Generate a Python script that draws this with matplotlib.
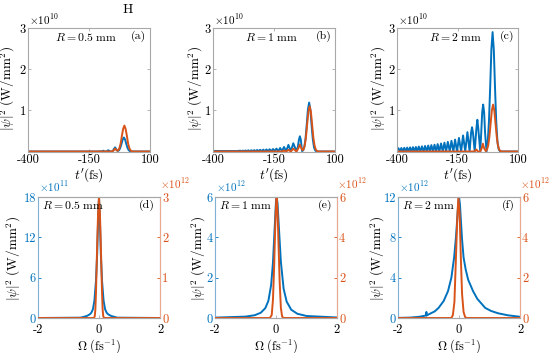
import matplotlib
matplotlib.use("Agg")
import matplotlib.pyplot as plt

plt.rcParams['font.family'] = ['cmr10', 'DejaVu Serif']
plt.rcParams['mathtext.fontset'] = 'cm'
plt.rcParams['axes.unicode_minus'] = False
plt.rcParams['axes.formatter.use_mathtext'] = True

BLUE = (0.0, 0.447, 0.741)
ORANGE = (0.85, 0.325, 0.098)
GRAY = '#a8a8a8'

# ---- top row: |psi|^2 vs t' (units of 1e10 W/mm^2) ----
a_t_blue = [-400, -115, -104, -97, -92, -86, -78, -71, -63, -54, -48, -43, -37, -32,
            -27, -22, -17, -12, -7, -2, 3, 8, 13, 18, 25, 100]
a_y_blue = [0, 0, 0.005, 0, 0.02, 0, 0, 0.03, 0, 0, 0.06, 0.10, 0.04, 0.012,
            0.03, 0.085, 0.18, 0.29, 0.34, 0.29, 0.18, 0.085, 0.03, 0.008, 0, 0]
a_t_orange = [-400, -60, -50, -43, -37, -34, -30, -25, -20, -15, -10, -5, 0, 5, 10,
              15, 20, 25, 30, 100]
a_y_orange = [0, 0, 0.02, 0.07, 0.03, 0.02, 0.028, 0.085, 0.2, 0.39, 0.55, 0.63, 0.55,
              0.39, 0.2, 0.085, 0.028, 0.007, 0, 0]

b_t_blue = [-400, -300, -288, -283, -277, -272, -266, -261, -255, -249, -243, -237,
            -231, -225, -219, -213, -207, -200, -194, -187, -181, -174, -168, -161,
            -154, -147, -140, -132, -125, -117, -109, -100, -91, -81, -71, -58,
            -52, -48, -44, -40, -35, -31, -26, -21, -16, -11, -6, -1, 4, 9, 14, 19,
            25, 100]
b_y_blue = [0.012, 0.012, 0.02, 0.008, 0.022, 0.008, 0.025, 0.008, 0.028, 0.008,
            0.03, 0.008, 0.033, 0.008, 0.037, 0.008, 0.04, 0.008, 0.045, 0.008,
            0.05, 0.008, 0.055, 0.008, 0.06, 0.008, 0.07, 0.008, 0.085, 0.008,
            0.11, 0.008, 0.16, 0.008, 0.2, 0.008, 0.12, 0.28, 0.37, 0.28, 0.01,
            0.025, 0.10, 0.30, 0.64, 1.02, 1.19, 1.02, 0.64, 0.30, 0.10, 0.025,
            0, 0]
b_t_orange = [-400, -120, -109, -100, -91, -81, -71, -58, -50, -44, -38, -33, -29,
              -24, -19, -14, -9, -4, 1, 6, 11, 16, 21, 26, 32, 100]
b_y_orange = [0, 0, 0.02, 0, 0.04, 0, 0.07, 0, 0.08, 0.17, 0.08, 0.03, 0.05,
              0.15, 0.35, 0.67, 0.97, 1.10, 0.97, 0.67, 0.35, 0.15, 0.05, 0.012, 0, 0]

c_t_blue = [-400, -394, -388, -382, -376, -370, -364, -358, -352, -346, -340, -334,
            -328, -322, -316, -310, -303, -297, -290, -284, -277, -271, -264, -258,
            -251, -245, -238, -232, -225, -218, -211, -204, -197, -190, -182, -175,
            -167, -160, -152, -144, -135, -127, -118, -109, -100, -94, -90, -86,
            -79, -72, -68, -64, -56, -52, -48, -44, -40, -36, -30, -25, -20, -15,
            -10, -5, 0, 5, 10, 15, 20, 26, 100]
c_y_blue = [0.04, 0.08, 0, 0.085, 0, 0.09, 0, 0.095, 0, 0.1, 0, 0.105,
            0, 0.11, 0, 0.12, 0, 0.125, 0, 0.135, 0, 0.145, 0, 0.155,
            0, 0.165, 0, 0.18, 0, 0.195, 0, 0.215, 0, 0.235, 0, 0.26,
            0, 0.29, 0, 0.33, 0, 0.39, 0, 0.47, 0, 0.45, 0.59, 0.45,
            0, 0.55, 0.77, 0.55, 0, 0.45, 0.95, 1.14, 0.95, 0.45, 0, 0.24, 0.73, 1.56,
            2.48, 2.9, 2.48, 1.56, 0.73, 0.24, 0.06, 0, 0]
c_t_orange = [-400, -80, -72, -66, -56, -50, -45, -40, -33, -28, -23, -18, -13, -8,
              -3, 2, 7, 12, 17, 22, 27, 33, 100]
c_y_orange = [0, 0, 0.05, 0, 0, 0.08, 0.19, 0.08, 0.01, 0.05, 0.15, 0.37, 0.69, 1.0,
              1.14, 1.0, 0.69, 0.37, 0.15, 0.05, 0.012, 0, 0]

# ---- bottom row: spectra vs Omega ----
d_w_blue = [-2, -0.6, -0.4, -0.3, -0.25, -0.2, -0.15, -0.1, -0.06, -0.03, 0,
            0.03, 0.06, 0.1, 0.15, 0.2, 0.25, 0.3, 0.4, 0.6, 2]
d_y_blue = [0, 0.05, 0.3, 0.55, 0.8, 1.3, 2.6, 5.5, 9.5, 14.5, 18,
            14.5, 9.5, 5.5, 2.6, 1.3, 0.8, 0.55, 0.3, 0.05, 0]           # x1e11
d_w_orange = [-2, -0.17, -0.14, -0.12, -0.1, -0.08, -0.06, -0.03, 0, 0.03, 0.06,
              0.08, 0.1, 0.12, 0.14, 0.17, 2]
d_y_orange = [0, 0, 0.04, 0.2, 0.6, 1.2, 1.8, 2.6, 3, 2.6, 1.8, 1.2, 0.6, 0.2,
              0.04, 0, 0]                                                 # x1e12

e_w_blue = [-2, -1, -0.7, -0.5, -0.35, -0.25, -0.16, -0.1, -0.05, 0.0, 0.02, 0.05,
            0.1, 0.16, 0.25, 0.35, 0.5, 0.7, 1.0, 2]
e_y_blue = [0.018, 0.069, 0.137, 0.26, 0.49, 0.85, 1.63, 2.74, 4.27, 5.81, 6, 5.7,
            4.35, 2.78, 1.45, 0.81, 0.41, 0.21, 0.10, 0.026]
e_w_orange = [-2, -0.2, -0.14, -0.1, -0.06, -0.03, 0.0, 0.02, 0.05, 0.08, 0.12,
              0.16, 0.2, 0.25, 2]
e_y_orange = [0, 0, 0.15, 0.9, 2.6, 4.3, 5.6, 6, 5.3, 3.8, 1.8, 0.5, 0.08, 0, 0]

f_w_blue = [-2, -1.6, -1.3, -1.08, -1.07, -1.06, -1.0, -0.8, -0.67, -0.5, -0.36,
            -0.25, -0.16, -0.1, -0.07, -0.03, 0, 0.03, 0.07, 0.1, 0.15, 0.22, 0.3,
            0.46, 0.6, 0.86, 1.05, 1.28, 1.6, 2.0]
f_y_blue = [0.01, 0.04, 0.12, 0.25, 0.6, 0.25, 0.35, 0.65, 1.0, 1.7, 2.67,
            4.0, 6.0, 8.0, 9.3, 11.2, 12, 11.3, 9.3, 7.8, 6.0, 4.8, 3.8,
            2.67, 1.9, 1.0, 0.7, 0.47, 0.27, 0.12]
f_w_orange = [-2, -0.25, -0.2, -0.15, -0.1, -0.06, -0.02, 0.02, 0.06, 0.1, 0.15,
              0.2, 0.25, 2]
f_y_orange = [0, 0, 0.15, 0.8, 3.0, 4.8, 6.0, 5.2, 3.0, 1.2, 0.3, 0.05, 0, 0]

W, H = 550, 353
fig = plt.figure(figsize=(W / 100, H / 100), dpi=100)


def box(x0, x1, ytop, ybot):
    return [x0 / W, 1 - ybot / H, (x1 - x0) / W, (ybot - ytop) / H]


def style_axis(ax, color=GRAY):
    for s in ax.spines.values():
        s.set_color(color)
        s.set_linewidth(0.8)
    ax.tick_params(direction='in', length=2.5, width=0.6, color=GRAY,
                   labelsize=9, pad=1.5, top=True, right=True)


ylab = r'$|\psi|^2\ (\mathrm{W/mm^2})$'

top = [
    (28, 150, 'a', '0.5', a_t_blue, a_y_blue, a_t_orange, a_y_orange, 8),
    (213, 335, 'b', '1', b_t_blue, b_y_blue, b_t_orange, b_y_orange, 196),
    (397, 518, 'c', '2', c_t_blue, c_y_blue, c_t_orange, c_y_orange, 379),
]
for x0, x1, tag, R, tb, yb, to, yo, ylx in top:
    ax = fig.add_axes(box(x0, x1, 28, 151.5))
    ax.plot(tb, yb, color=BLUE, lw=1.4)
    ax.plot(to, yo, color=ORANGE, lw=1.4)
    ax.set_xlim(-400, 100)
    ax.set_ylim(0, 3)
    ax.set_xticks([-400, -150, 100])
    ax.set_xticklabels(['-400', '-150', '100'])
    ax.set_yticks([1, 2, 3])
    ax.set_yticklabels(['1', '2', '3'])
    style_axis(ax)
    ax.text(0.48, 0.93, r'$R = %s\ \mathrm{mm}$' % R, transform=ax.transAxes,
            ha='center', va='center', fontsize=8.5)
    ax.text(0.97, 0.93, '(%s)' % tag, transform=ax.transAxes,
            ha='right', va='center', fontsize=8.5)
    fig.text((x0 + 1) / W, 1 - 20 / H, r'$\times10^{10}$', fontsize=8,
             ha='left', va='center')
    fig.text(ylx / W, 1 - 88 / H, ylab, rotation=90, ha='center', va='center',
             fontsize=9.5)
    fig.text((x0 + x1) / 2 / W, 1 - 175 / H, r"$t'(\mathrm{fs})$", ha='center',
             va='center', fontsize=9.5)

fig.text(128 / W, 1 - 10 / H, 'H', ha='center', va='center', fontsize=10)

bottom = [
    (38, 160, 'd', '0.5', d_w_blue, d_y_blue, d_w_orange, d_y_orange,
     18, [0, 6, 12, 18], 11, 3, [0, 1, 2, 3], 14),
    (215, 337, 'e', '1', e_w_blue, e_y_blue, e_w_orange, e_y_orange,
     6, [0, 2, 4, 6], 12, 6, [0, 2, 4, 6], 199),
    (398, 520, 'f', '2', f_w_blue, f_y_blue, f_w_orange, f_y_orange,
     12, [0, 4, 8, 12], 12, 6, [0, 2, 4, 6], 378),
]
for (x0, x1, tag, R, wb, yb, wo, yo, lmax, lticks, lexp, rmax, rticks,
     ylx) in bottom:
    ax = fig.add_axes(box(x0, x1, 197, 318))
    ax2 = ax.twinx()
    ax.plot(wb, yb, color=BLUE, lw=1.4)
    ax2.plot(wo, yo, color=ORANGE, lw=1.4)
    ax.set_xlim(-2, 2)
    ax.set_ylim(0, lmax)
    ax2.set_ylim(0, rmax)
    ax.set_xticks([-2, 0, 2])
    ax.set_xticklabels(['-2', '0', '2'])
    ax.set_yticks(lticks)
    ax.set_yticklabels([str(v) for v in lticks])
    ax2.set_yticks(rticks)
    ax2.set_yticklabels([str(v) for v in rticks])
    for a in (ax, ax2):
        for s in a.spines.values():
            s.set_color(GRAY)
            s.set_linewidth(0.8)
    ax.spines['left'].set_color('#7fb0d6')
    ax2.spines['left'].set_visible(False)
    ax2.spines['right'].set_color('#eba98e')
    ax.tick_params(axis='x', direction='in', length=2.5, width=0.6, color=GRAY,
                   labelsize=9, pad=4, top=True)
    ax.tick_params(axis='y', direction='in', length=2.5, width=0.6, color=BLUE,
                   labelcolor=BLUE, labelsize=9, pad=1.5, right=False)
    ax2.tick_params(axis='y', direction='in', length=2.5, width=0.6,
                    color=ORANGE, labelcolor=ORANGE, labelsize=9, pad=1.5)
    ax2.text(0.03, 0.93, r'$R = %s\ \mathrm{mm}$' % R, transform=ax.transAxes,
             ha='left', va='center', fontsize=8.5)
    ax2.text(0.96, 0.93, '(%s)' % tag, transform=ax.transAxes,
             ha='right', va='center', fontsize=8.5)
    fig.text((x0 + 1) / W, 1 - 187 / H, r'$\times10^{%d}$' % lexp, fontsize=8,
             color=BLUE, ha='left', va='center')
    fig.text(x1 / W, 1 - 184 / H, r'$\times10^{12}$', fontsize=8,
             color=ORANGE, ha='left', va='center')
    fig.text(ylx / W, 1 - 258 / H, ylab, rotation=90, ha='center', va='center',
             fontsize=9.5)
    fig.text((x0 + x1) / 2 / W, 1 - 346 / H, r'$\Omega\ (\mathrm{fs}^{-1})$',
             ha='center', va='center', fontsize=9)

fig.savefig('out.png', dpi=100)
